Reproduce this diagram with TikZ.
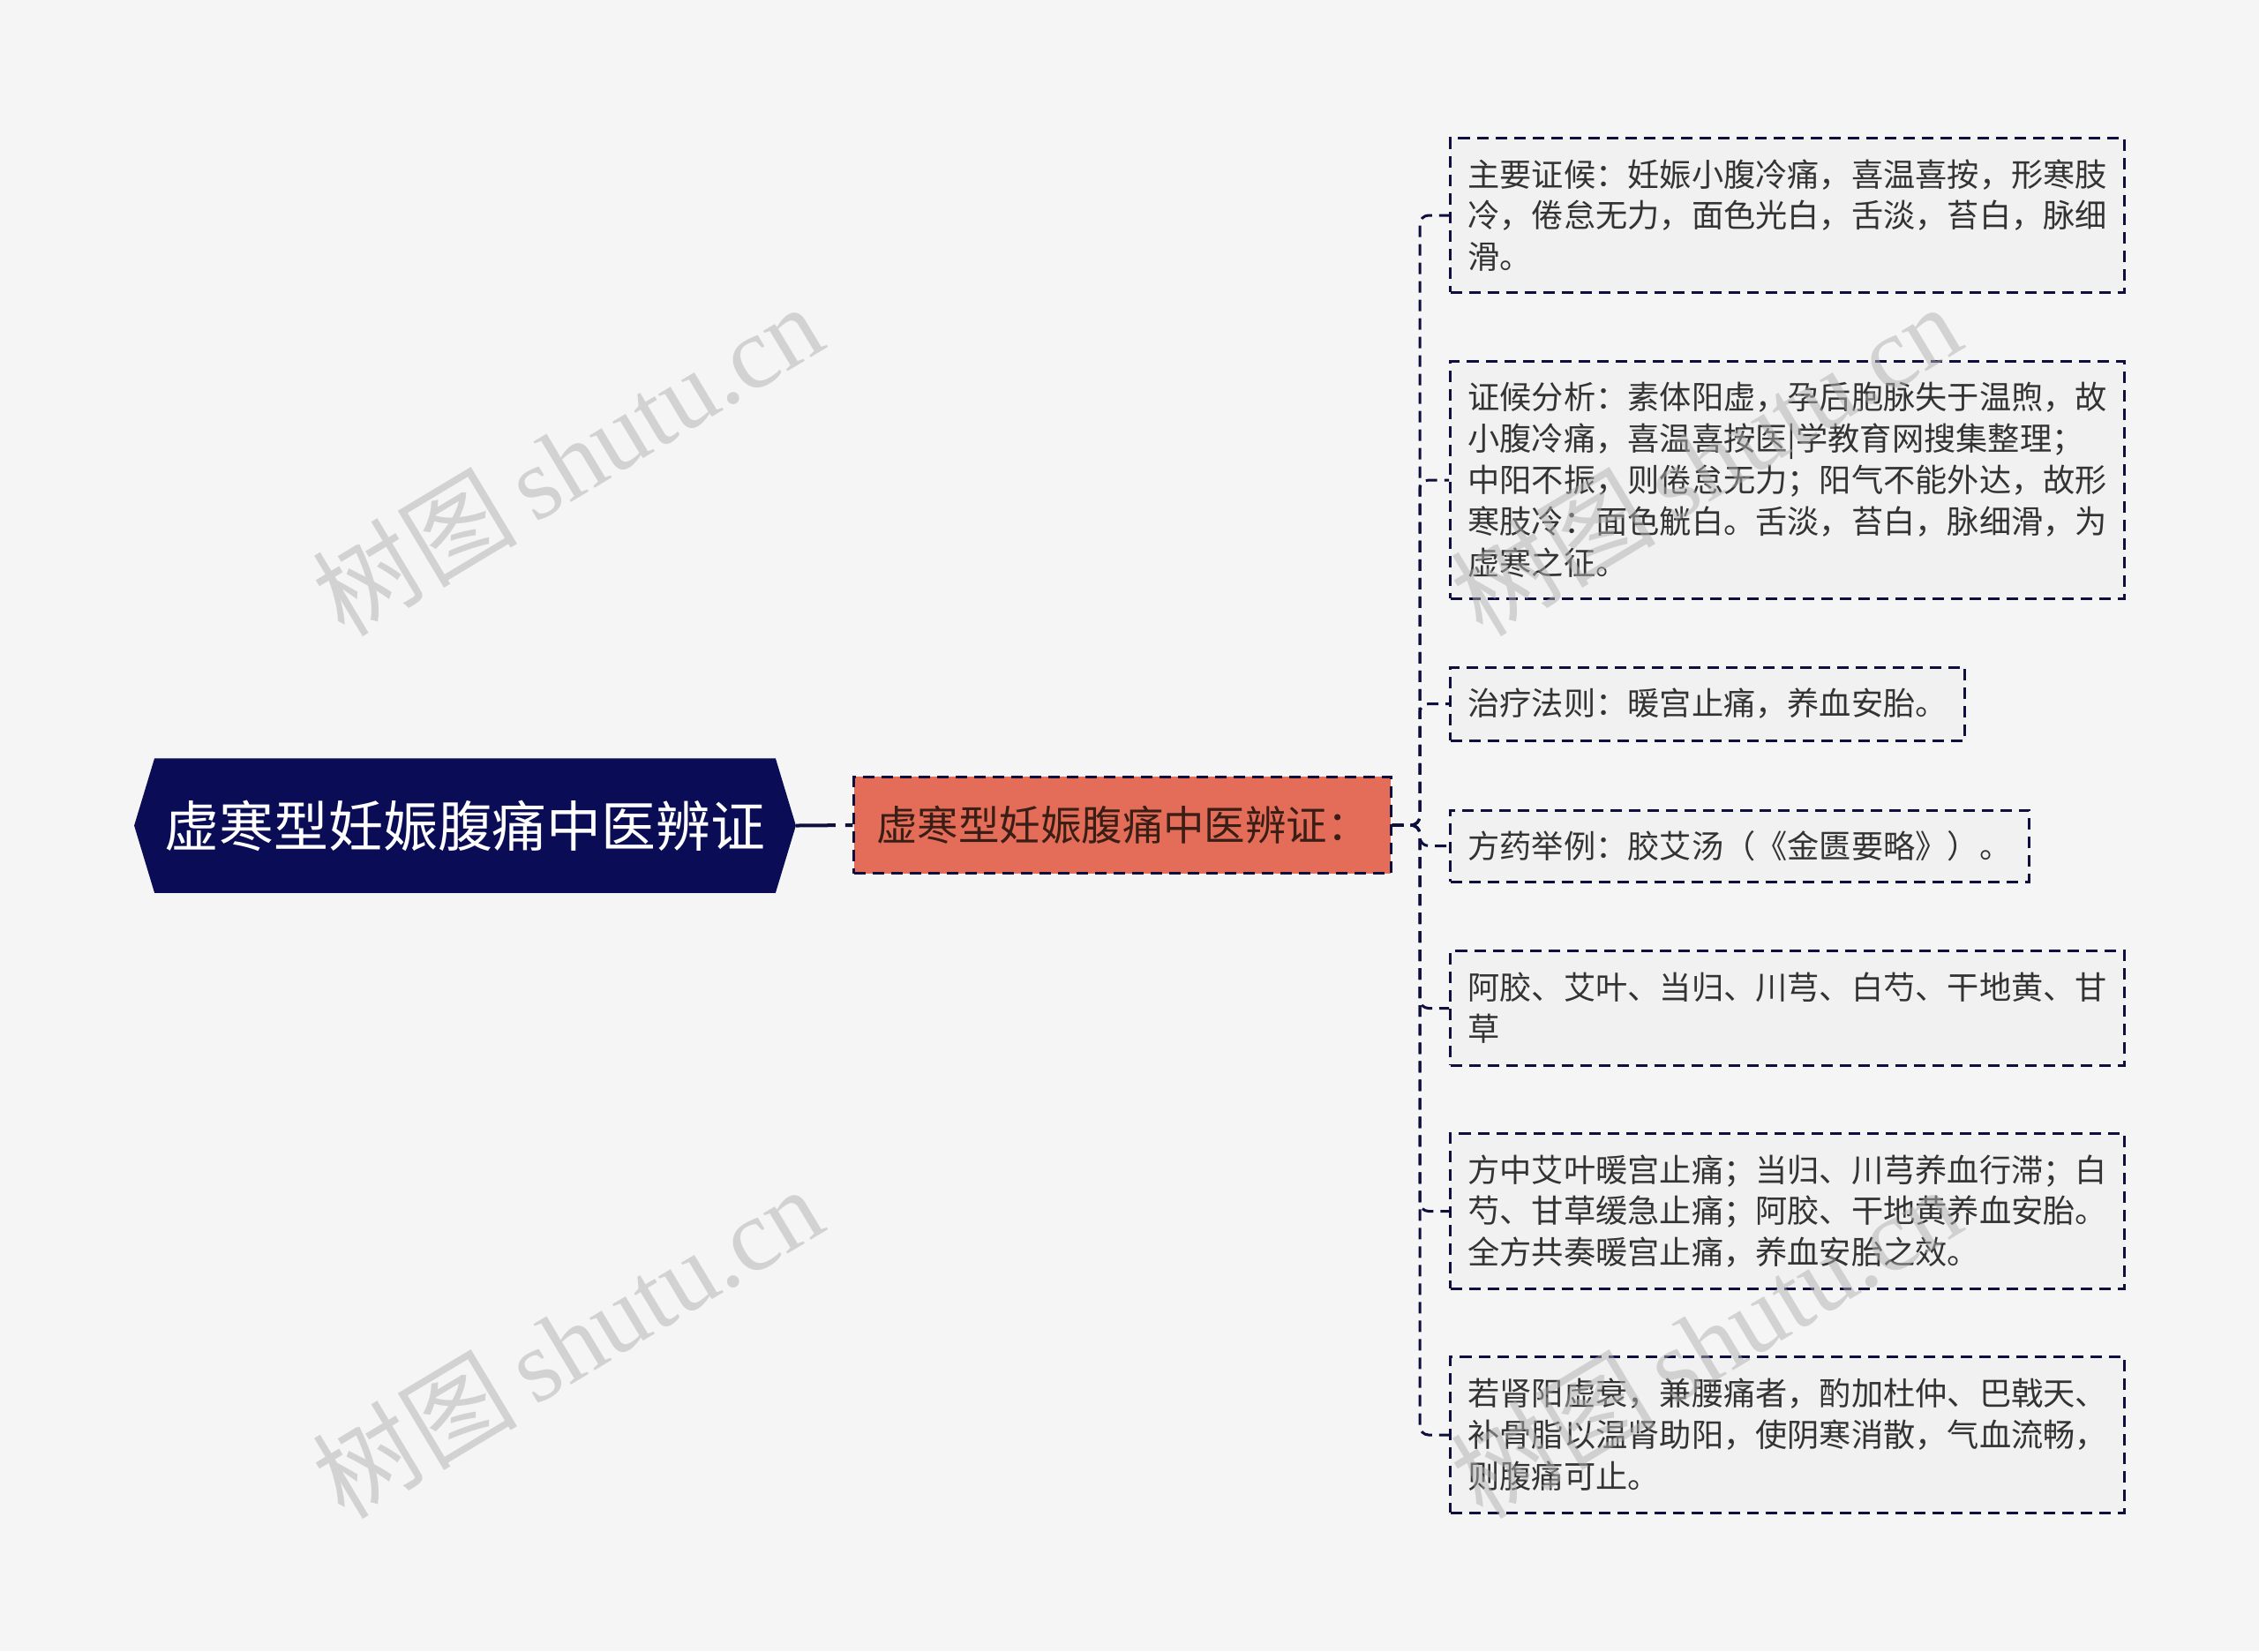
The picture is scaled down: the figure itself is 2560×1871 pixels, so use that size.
\documentclass[tikz,border=0pt]{standalone}
\usepackage{fontspec}
\usepackage{tikz}
\newfontfamily\cjk{Noto Sans CJK SC}
\newfontfamily\wmlatin{Liberation Serif}
\usetikzlibrary{positioning}
\pgfdeclarelayer{bg}
\pgfsetlayers{bg,main}
\definecolor{pagebg}{HTML}{F5F5F5}
\definecolor{leaffill}{HTML}{F1F1F1}
\definecolor{linecol}{HTML}{0E0F3F}
\definecolor{rootfill}{HTML}{0A0D55}
\definecolor{subfill}{HTML}{E36D58}
\definecolor{subtext}{HTML}{3A1E16}
\definecolor{leaftext}{HTML}{333333}
\definecolor{wmgray}{HTML}{B1B1B1}
\tikzset{link/.style = {draw = linecol, line width = 0.03cm,
                        dash pattern = on 0.13cm off 0.08cm,
                        rounded corners = 0.1cm}}
\tikzset{rootlink/.style = {draw = linecol, line width = 0.04cm,
                            dash pattern = on 0.45cm off 0.11cm}}
\tikzset{rootbox/.style = {inner sep = 0, minimum width = 7.02cm, minimum height = 1.51cm,
                           text = white, font = \fontsize{17.6pt}{21pt}\selectfont\cjk}}
\tikzset{subbox/.style = {draw = linecol, line width = 0.03cm, dash pattern = on 0.13cm off 0.08cm,
                          fill = subfill, inner sep = 0, minimum width = 6.08cm, minimum height = 1.09cm,
                          text = subtext, font = \fontsize{13.2pt}{16pt}\selectfont\cjk}}
\tikzset{leaf/.style = {draw = linecol, line width = 0.03cm, dash pattern = on 0.13cm off 0.08cm,
                        fill = leaffill, anchor = west, align = left, inner xsep = 0.2cm, inner ysep = 0,
                        text = leaftext, font = \fontsize{10.3pt}{13.34pt}\selectfont\cjk}}
\tikzset{wmark/.style = {text = wmgray, opacity = 0.5, rotate = 31,
                         font = \fontsize{33pt}{36pt}\selectfont}}

\begin{document}
\begin{tikzpicture}[x = 0.01cm, y = -0.01cm]
  \useasboundingbox (0, 0) rectangle (2560, 1871);

  \node [rootbox] (root) at (527, 935.5) {虚寒型妊娠腹痛中医辨证};
  \node [subbox] (sub) at (1272, 935) {虚寒型妊娠腹痛中医辨证：};

  \begin{pgfonlayer}{bg}
    \fill [pagebg] (0, 0) rectangle (2560, 1871);
    \fill [rootfill] (root.north west) -- (root.north east) -- ([xshift = 0.23cm]root.east)
      -- (root.south east) -- (root.south west) -- ([xshift = -0.23cm]root.west) -- cycle;
  \end{pgfonlayer}

  \node [leaf, minimum height = 1.74cm] (sign) at (1642, 244)
    {主要证候：妊娠小腹冷痛，喜温喜按，形寒肢\\冷，倦怠无力，面色光白，舌淡，苔白，脉细\\滑。};
  \node [leaf, minimum height = 2.68cm] (analysis) at (1642, 544)
    {证候分析：素体阳虚，孕后胞脉失于温煦，故\\小腹冷痛，喜温喜按医|学教育网搜集整理；\\中阳不振，则倦怠无力；阳气不能外达，故形\\寒肢冷：面色觥白。舌淡，苔白，脉细滑，为\\虚寒之征。};
  \node [leaf, minimum height = 0.83cm] (rule) at (1642, 797.5)
    {治疗法则：暖宫止痛，养血安胎。};
  \node [leaf, minimum height = 0.81cm] (recipe) at (1642, 958.5)
    {方药举例：胶艾汤（《金匮要略》）。};
  \node [leaf, minimum height = 1.29cm] (herbs) at (1642, 1142.5)
    {阿胶、艾叶、当归、川芎、白芍、干地黄、甘\\草};
  \node [leaf, minimum height = 1.75cm] (effect) at (1642, 1372.5)
    {方中艾叶暖宫止痛；当归、川芎养血行滞；白\\芍、甘草缓急止痛；阿胶、干地黄养血安胎。\\全方共奏暖宫止痛，养血安胎之效。};
  \node [leaf, minimum height = 1.76cm] (variant) at (1642, 1626)
    {若肾阳虚衰，兼腰痛者，酌加杜仲、巴戟天、\\补骨脂以温肾助阳，使阴寒消散，气血流畅，\\则腹痛可止。};

  \coordinate (fork) at (1609, 935);
  \draw [rootlink] (root.east) ++(0.23cm, 0) -- (sub.west);
  \draw [link] (sub.east) -- (fork) |- (sign.west);
  \draw [link] (sub.east) -- (fork) |- (analysis.west);
  \draw [link] (sub.east) -- (fork) |- (rule.west);
  \draw [link] (sub.east) -- (fork) |- (recipe.west);
  \draw [link] (sub.east) -- (fork) |- (herbs.west);
  \draw [link] (sub.east) -- (fork) |- (effect.west);
  \draw [link] (sub.east) -- (fork) |- (variant.west);

  % watermarks
  \node [wmark] (wm1) at (643, 520) {\cjk 树图\,\wmlatin shutu.cn};
  \node [wmark] (wm2) at (643, 1520) {\cjk 树图\,\wmlatin shutu.cn};
  \node [wmark] (wm3) at (1933, 520) {\cjk 树图\,\wmlatin shutu.cn};
  \node [wmark] (wm4) at (1933, 1520) {\cjk 树图\,\wmlatin shutu.cn};
\end{tikzpicture}
\end{document}
